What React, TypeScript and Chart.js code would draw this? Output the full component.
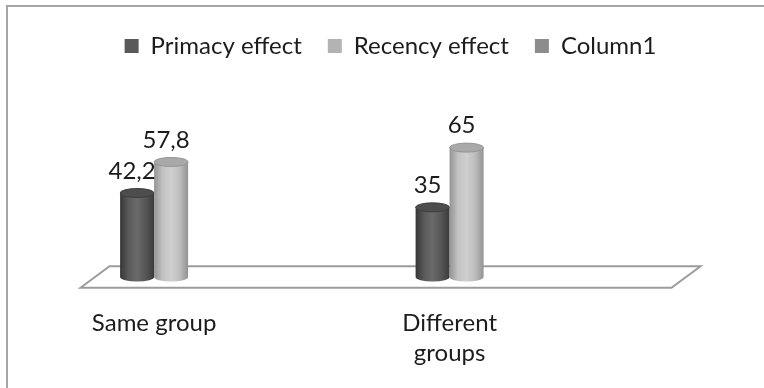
import { useEffect, useRef } from "react";
import { Chart, registerables } from "chart.js";

Chart.register(...registerables);

// Categories along the floor (index positions 0, 1 on the x axis)
const categories: (string | string[])[] = ["Same group", ["Different", "groups"]];

// Series values
const primacyEffect = [42.2, 35];
const recencyEffect = [57.8, 65];
const column1: number[] = [];

const seriesNames = ["Primacy effect", "Recency effect", "Column1"];
const seriesColors = ["#595959", "#b3b3b3", "#8c8c8c"];

// Horizontal shading across each cylinder body, left to right
const bodyShades = [
  ["#363636", "#5a5a5a", "#6a6a6a", "#565656", "#3a3a3a"],
  ["#949494", "#c2c2c2", "#cfcfcf", "#bdbdbd", "#939393"],
];
const capColors = ["#4d4d4d", "#a9a9a9"];
const capEdges = ["#3f3f3f", "#959595"];

const FONT = "Lato, 'Open Sans', sans-serif";
const TEXT = "#1c1c1c";

// Oblique depth of the floor and the cylinder ellipse radius
const DEPTH_DX = 14.5;
const DEPTH_DY = 10.75;
const CAP_RY = 4.5;

const formatValue = (v: number) => String(v).replace(".", ",");

const cylinderPlugin = {
  id: "cylinders",
  beforeDraw(chart: any) {
    const { ctx } = chart;
    ctx.save();
    ctx.fillStyle = "#a6a6a6";
    ctx.fillRect(6, 5, 2, chart.height);
    ctx.fillRect(6, 5, chart.width, 2);
    ctx.restore();
  },
  beforeDatasetsDraw(chart: any) {
    const { ctx, chartArea, scales } = chart;
    const y0 = scales.y.getPixelForValue(0);
    const xl = chartArea.left;
    const xr = chartArea.right;
    ctx.save();
    ctx.beginPath();
    ctx.moveTo(xl - DEPTH_DX, y0 + DEPTH_DY);
    ctx.lineTo(xl + DEPTH_DX, y0 - DEPTH_DY);
    ctx.lineTo(xr + DEPTH_DX, y0 - DEPTH_DY);
    ctx.lineTo(xr - DEPTH_DX, y0 + DEPTH_DY);
    ctx.closePath();
    ctx.fillStyle = "#ffffff";
    ctx.fill();
    ctx.strokeStyle = "#9c9c9c";
    ctx.lineWidth = 2;
    ctx.stroke();
    ctx.restore();
  },
  beforeDatasetDraw() {
    return false;
  },
  afterDatasetsDraw(chart: any) {
    const { ctx } = chart;
    ctx.save();
    for (let d = 0; d < 2; d++) {
      const meta = chart.getDatasetMeta(d);
      meta.data.forEach((el: any) => {
        const { x, y, base, width } = el.getProps(["x", "y", "base", "width"], true);
        const rx = width / 2;
        const l = x - rx;
        const r = x + rx;
        const grad = ctx.createLinearGradient(l, 0, r, 0);
        const shades = bodyShades[d];
        shades.forEach((c, i) => grad.addColorStop(i / (shades.length - 1), c));
        ctx.beginPath();
        ctx.moveTo(l, y);
        ctx.lineTo(l, base);
        ctx.ellipse(x, base, rx, CAP_RY, 0, Math.PI, 0, true);
        ctx.lineTo(r, y);
        ctx.closePath();
        ctx.fillStyle = grad;
        ctx.fill();
        ctx.beginPath();
        ctx.ellipse(x, y, rx, CAP_RY, 0, 0, Math.PI * 2);
        ctx.fillStyle = capColors[d];
        ctx.fill();
        ctx.strokeStyle = capEdges[d];
        ctx.lineWidth = 1;
        ctx.stroke();
      });
    }
    ctx.font = `24px ${FONT}`;
    ctx.fillStyle = TEXT;
    ctx.textAlign = "center";
    ctx.textBaseline = "middle";
    for (let d = 0; d < 2; d++) {
      const meta = chart.getDatasetMeta(d);
      const values = chart.data.datasets[d].data;
      meta.data.forEach((el: any, i: number) => {
        const { x, y } = el.getProps(["x", "y"], true);
        ctx.fillText(formatValue(values[i].y), x - 5, y - 22);
      });
    }
    ctx.restore();
  },
};

export default function App() {
  const canvasRef = useRef<HTMLCanvasElement | null>(null);

  useEffect(() => {
    const canvas = canvasRef.current;
    if (!canvas) return;
    const toPoints = (arr: number[]) => arr.map((v, i) => ({ x: i, y: v }));
    const chart = new Chart(canvas, {
      type: "bar",
      data: {
        datasets: [
          {
            label: seriesNames[0],
            data: toPoints(primacyEffect),
            backgroundColor: seriesColors[0],
            borderWidth: 0,
            barThickness: 34,
          },
          {
            label: seriesNames[1],
            data: toPoints(recencyEffect),
            backgroundColor: seriesColors[1],
            borderWidth: 0,
            barThickness: 34,
          },
          {
            label: seriesNames[2],
            data: toPoints(column1),
            backgroundColor: seriesColors[2],
            borderWidth: 0,
            barThickness: 34,
            grouped: false,
          },
        ],
      } as any,
      options: {
        animation: false,
        responsive: false,
        maintainAspectRatio: false,
        layout: { padding: { left: 95, right: 78, top: 8, bottom: 0 } },
        scales: {
          x: {
            type: "linear",
            offset: false,
            min: -0.2,
            max: 1.8,
            grid: { display: false, drawTicks: false },
            border: { display: false },
            afterBuildTicks: (s: any) => {
              s.ticks = categories.map((_, i) => ({ value: i }));
            },
            afterFit: (s: any) => {
              s.height = 111;
            },
            ticks: {
              autoSkip: false,
              maxRotation: 0,
              padding: 31,
              color: TEXT,
              font: { family: FONT, size: 24, lineHeight: 1.25 },
              callback: (v: any) => categories[v as number],
            },
          },
          y: { display: false, min: 0, max: 105 },
        },
        plugins: {
          legend: {
            position: "top",
            labels: {
              boxWidth: 14,
              boxHeight: 14,
              padding: 26,
              color: TEXT,
              font: { family: FONT, size: 24 },
            },
          },
          tooltip: { enabled: false },
        },
      } as any,
      plugins: [cylinderPlugin],
    });
    return () => chart.destroy();
  }, []);

  return (
    <div style={{ position: "fixed", left: 0, top: 0, width: 764, height: 388, background: "#fff" }}>
      <canvas ref={canvasRef} width={764} height={388} style={{ display: "block" }} />
    </div>
  );
}
